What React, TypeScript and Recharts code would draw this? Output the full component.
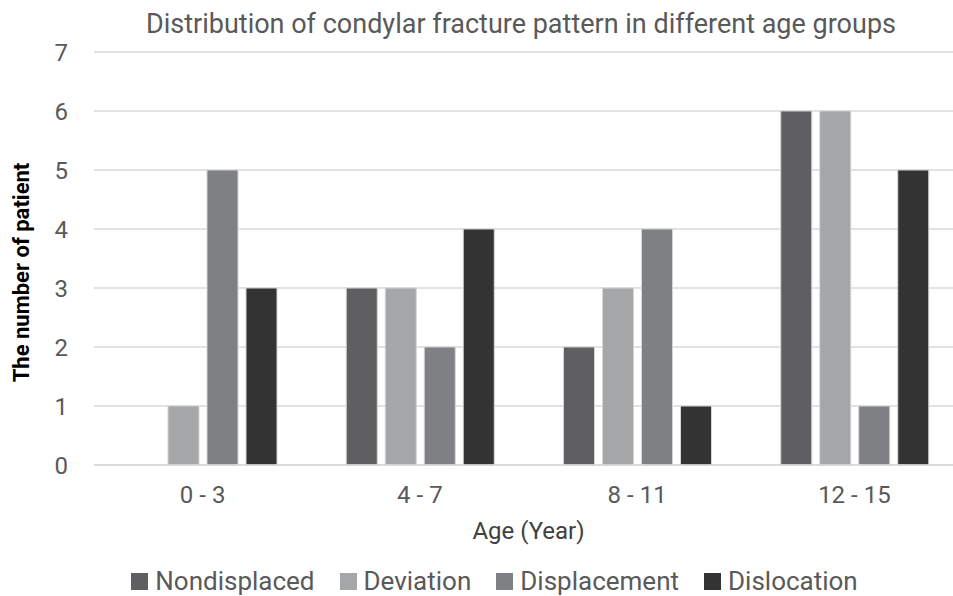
import { BarChart, Bar, XAxis, YAxis, CartesianGrid, Legend } from 'recharts';

const ageGroups = ['0 - 3', '4 - 7', '8 - 11', '12 - 15'];
const nondisplaced = [0, 3, 2, 6];
const deviation = [1, 3, 3, 6];
const displacement = [5, 2, 4, 1];
const dislocation = [3, 4, 1, 5];
const yTicks = [0, 1, 2, 3, 4, 5, 6, 7];

const FONT = "Roboto, 'Open Sans', sans-serif";

const data = ageGroups.map((age, i) => ({
  age,
  Nondisplaced: nondisplaced[i],
  Deviation: deviation[i],
  Displacement: displacement[i],
  Dislocation: dislocation[i],
}));

const series = [
  { key: 'Nondisplaced', color: '#5f5f61' },
  { key: 'Deviation', color: '#a5a6a8' },
  { key: 'Displacement', color: '#7f8083' },
  { key: 'Dislocation', color: '#333333' },
];

const YLabel = (props: any) => {
  const { viewBox } = props;
  const x = 21;
  const y = viewBox.y + viewBox.height / 2 + 14;
  return (
    <text
      x={x}
      y={y}
      transform={`rotate(-90, ${x}, ${y})`}
      textAnchor="middle"
      dominantBaseline="central"
      fontFamily={FONT}
      fontSize={22}
      fontWeight="bold"
      fill="#000"
    >
      The number of patient
    </text>
  );
};

// legend in series order, not sorted
const LegendRow = () => (
  <div style={{ display: 'flex', justifyContent: 'center', alignItems: 'center', gap: 25, paddingLeft: 26, fontFamily: FONT }}>
    {series.map((s) => (
      <div key={s.key} style={{ display: 'flex', alignItems: 'center' }}>
        <span style={{ display: 'inline-block', width: 17, height: 17, background: s.color, marginRight: 7 }} />
        <span style={{ color: '#595959', fontSize: 26, lineHeight: '30px' }}>{s.key}</span>
      </div>
    ))}
  </div>
);

const App = () => {
  return (
    <div style={{ position: 'fixed', left: 0, top: 0, width: 953, height: 596, overflow: 'hidden', background: '#fff', fontFamily: FONT }}>
      <div style={{ position: 'absolute', left: 0, width: 1042, top: 8, textAlign: 'center', fontSize: 27, color: '#595959' }}>
        Distribution of condylar fracture pattern in different age groups
      </div>
      <BarChart
        width={980}
        height={596}
        data={data}
        margin={{ top: 52, right: 17, left: 0, bottom: 0 }}
        barCategoryGap={35}
        barGap={8}
      >
        <CartesianGrid vertical={false} stroke="#d9d9d9" strokeWidth={1.5} />
        <XAxis
          dataKey="age"
          height={101}
          tickLine={false}
          tickSize={0}
          tickMargin={21}
          axisLine={{ stroke: '#d9d9d9', strokeWidth: 1.5 }}
          tick={{ fill: '#595959', fontSize: 24, fontFamily: FONT }}
          label={{ value: 'Age (Year)', position: 'insideBottom', offset: 27, fill: '#404040', fontSize: 24, fontFamily: FONT }}
        />
        <YAxis
          width={94}
          domain={[0, 7]}
          ticks={yTicks}
          interval={0}
          axisLine={false}
          tickLine={false}
          tickSize={0}
          tickMargin={26}
          tick={{ fill: '#595959', fontSize: 24, fontFamily: FONT }}
          label={<YLabel />}
        />
        <Legend verticalAlign="bottom" height={30} content={<LegendRow />} />
        {series.map((s) => (
          <Bar key={s.key} dataKey={s.key} fill={s.color} stroke="#d4d4d6" strokeWidth={1} isAnimationActive={false} />
        ))}
      </BarChart>
    </div>
  );
};

export default App;
